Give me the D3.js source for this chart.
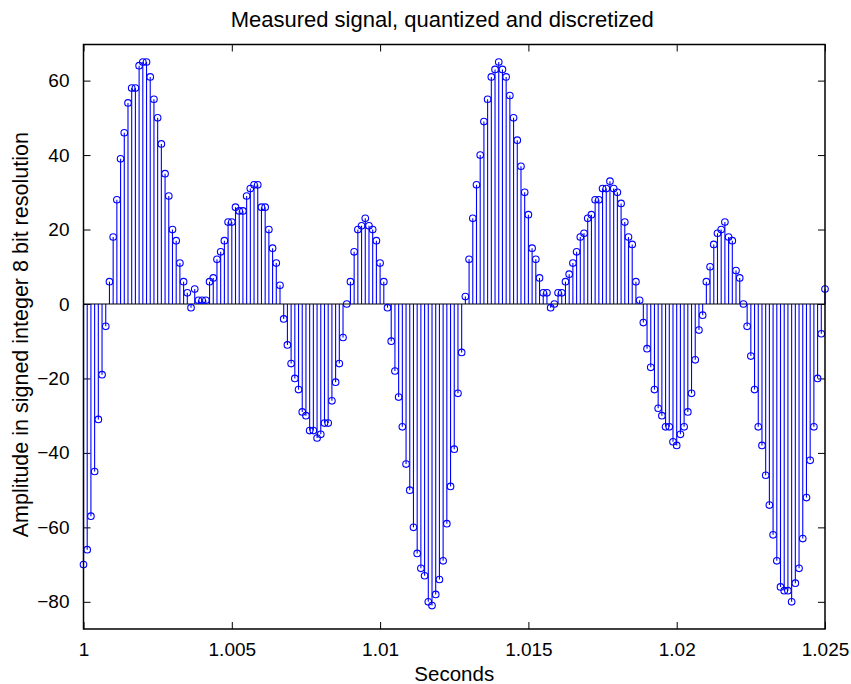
<!DOCTYPE html>
<html>
<head>
<meta charset="utf-8">
<script src="https://cdn.jsdelivr.net/npm/d3@7"></script>
<style>
  body { margin: 0; background: #fff; }
  text { font-family: "Liberation Sans", Arial, sans-serif; fill: #000; }
</style>
</head>
<body>
<div id="viz"></div>
<script>

const startTime = 1
const sampleRate = 8000

// quantized samples
const amplitudes = [
  -70, -66, -57, -45, -31, -19, -6, 6, 18, 28, 39, 46, 54, 58, 58, 64, 65, 65, 61, 55, 50,
  43, 35, 29, 20, 17, 11, 6, 3, -1, 4, 1, 1, 1, 6, 7, 12, 14, 17, 22, 22,
  26, 25, 25, 29, 31, 32, 32, 26, 26, 20, 15, 11, 5, -4, -11, -16, -20, -23, -29, -30,
  -34, -34, -36, -35, -32, -32, -26, -21, -16, -9, 0, 6, 14, 20, 21, 23, 21, 20, 17, 11,
  6, -1, -10, -18, -25, -33, -43, -50, -60, -67, -71, -73, -80, -81, -78, -74, -69, -59, -49, -39,
  -24, -13, 2, 12, 23, 32, 40, 49, 55, 61, 63, 65, 63, 61, 56, 50, 44, 37, 30, 24,
  15, 12, 7, 3, 3, -1, 0, 3, 3, 6, 8, 11, 14, 18, 19, 23, 24, 28, 28, 31,
  31, 33, 31, 30, 27, 22, 18, 16, 6, 1, -5, -12, -17, -23, -28, -30, -33, -33, -37, -38,
  -35, -33, -29, -24, -15, -7, -3, 6, 10, 16, 19, 20, 22, 18, 17, 9, 7, 0, -6, -14,
  -23, -33, -38, -46, -54, -62, -69, -76, -77, -77, -80, -75, -71, -63, -52, -42, -33, -20, -8, 4
]

const xTicks = [1, 1.005, 1.01, 1.015, 1.02, 1.025]
const xTickLabels = ["1", "1.005", "1.01", "1.015", "1.02", "1.025"]
const yTicks = [-80, -60, -40, -20, 0, 20, 40, 60]
const yDomain = [-87.3, 69.7]

const titleText = "Measured signal, quantized and discretized"
const xLabelText = "Seconds"
const yLabelText = "Amplitude in signed integer 8 bit resolution"

const width = 851
const height = 684
const margin = { left: 83.5, right: 26, top: 44.5, bottom: 55 }

const samples = amplitudes.map((v, i) => ({ t: startTime + i / sampleRate, v: v }))

const svg = d3.select("#viz").append("svg")
  .attr("width", width)
  .attr("height", height)

const x = d3.scaleLinear()
  .domain([xTicks[0], xTicks[xTicks.length - 1]])
  .range([margin.left, width - margin.right])

const y = d3.scaleLinear()
  .domain(yDomain)
  .range([height - margin.bottom, margin.top])

const tickLen = 7

// axes, ticks inside, box on
svg.append("g")
  .attr("transform", `translate(0,${y.range()[0]})`)
  .call(d3.axisBottom(x).tickValues(xTicks).tickFormat((d, i) => xTickLabels[i]).tickSizeInner(-tickLen).tickSizeOuter(0).tickPadding(14))
  .call(g => g.select(".domain").remove())

svg.append("g")
  .attr("transform", `translate(0,${y.range()[1]})`)
  .call(d3.axisTop(x).tickValues(xTicks).tickFormat("").tickSizeInner(-tickLen).tickSizeOuter(0))
  .call(g => g.select(".domain").remove())

svg.append("g")
  .attr("transform", `translate(${x.range()[0]},0)`)
  .call(d3.axisLeft(y).tickValues(yTicks).tickFormat(d => d < 0 ? "\u2212" + Math.abs(d) : d).tickSizeInner(-tickLen).tickSizeOuter(0).tickPadding(14))
  .call(g => g.select(".domain").remove())

svg.append("g")
  .attr("transform", `translate(${x.range()[1]},0)`)
  .call(d3.axisRight(y).tickValues(yTicks).tickFormat("").tickSizeInner(-tickLen).tickSizeOuter(0))
  .call(g => g.select(".domain").remove())

svg.selectAll(".tick line").attr("stroke", "#000").attr("stroke-width", 1)
svg.selectAll(".tick text").style("font-size", "19px").attr("font-family", "Liberation Sans, Arial, sans-serif")

// stems
svg.append("g").selectAll("line")
  .data(samples)
  .join("line")
  .attr("x1", d => x(d.t))
  .attr("x2", d => x(d.t))
  .attr("y1", y(0))
  .attr("y2", d => y(d.v))
  .attr("stroke", "#0000ff")
  .attr("stroke-width", 1.1)

// baseline
svg.append("line")
  .attr("x1", x.range()[0])
  .attr("x2", x.range()[1])
  .attr("y1", y(0))
  .attr("y2", y(0))
  .attr("stroke", "#000")
  .attr("stroke-width", 1.2)

// markers
svg.append("g").selectAll("circle")
  .data(samples)
  .join("circle")
  .attr("cx", d => x(d.t))
  .attr("cy", d => y(d.v))
  .attr("r", 3.3)
  .attr("fill", "none")
  .attr("stroke", "#0000ff")
  .attr("stroke-width", 1.1)

// box
svg.append("rect")
  .attr("x", x.range()[0])
  .attr("y", y.range()[1])
  .attr("width", x.range()[1] - x.range()[0])
  .attr("height", y.range()[0] - y.range()[1])
  .attr("fill", "none")
  .attr("stroke", "#000")
  .attr("stroke-width", 1.5)

svg.append("text")
  .attr("x", (x.range()[0] + x.range()[1]) / 2 - 12)
  .attr("y", 27)
  .attr("text-anchor", "middle")
  .style("font-size", "22px")
  .text(titleText)

svg.append("text")
  .attr("x", (x.range()[0] + x.range()[1]) / 2)
  .attr("y", 681)
  .attr("text-anchor", "middle")
  .style("font-size", "20.5px")
  .text(xLabelText)

svg.append("text")
  .attr("transform", `translate(28,${(y.range()[0] + y.range()[1]) / 2 - 2}) rotate(-90)`)
  .attr("text-anchor", "middle")
  .style("font-size", "21.5px")
  .text(yLabelText)

</script>
</body>
</html>
